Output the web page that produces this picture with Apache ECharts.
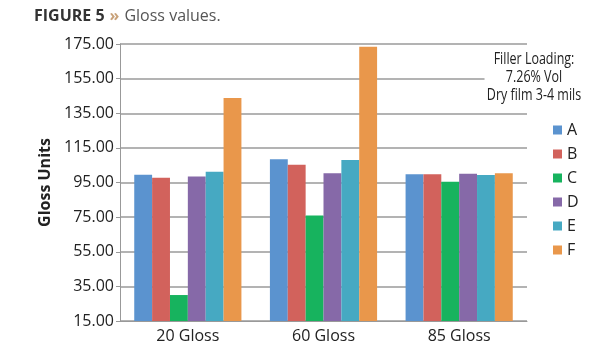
<!DOCTYPE html>
<html>
<head>
<meta charset="utf-8">
<script src="https://cdn.jsdelivr.net/npm/echarts@6/dist/echarts.min.js"></script>
<style>
  html, body { margin: 0; padding: 0; background: #fff; }
  #main { width: 615px; height: 350px; }
</style>
</head>
<body>
<div id="main"></div>
<script>
// 数据
var categories = ['20 Gloss', '60 Gloss', '85 Gloss'];
var seriesNames = ['A', 'B', 'C', 'D', 'E', 'F'];
var valA = [99.5, 108.5, 99.8];
var valB = [97.8, 105.2, 99.8];
var valC = [30.0, 76.0, 95.5];
var valD = [98.5, 100.4, 100.0];
var valE = [101.2, 108.0, 99.4];
var valF = [143.8, 173.4, 100.4];
var colors = ['#5b93cf', '#d2625c', '#17b35e', '#8669a8', '#46a9c2', '#e9974b'];

var allVals = [valA, valB, valC, valD, valE, valF];
var myChart = echarts.init(document.getElementById('main'));

var series = [];
for (var i = 0; i < seriesNames.length; i++) {
  series.push({
    name: seriesNames[i],
    type: 'bar',
    data: allVals[i],
    barGap: '0%',
    barCategoryGap: '21%',
    itemStyle: { color: colors[i] }
  });
}

var option = {
  animation: false,
  title: {
    text: '{a|FIGURE 5} {b|»} {c|Gloss values.}',
    left: 29,
    top: 2,
    textStyle: {
      rich: {
        a: { fontFamily: 'Open Sans', fontWeight: 'bold', fontSize: 16, color: '#333' },
        b: { fontFamily: 'Open Sans', fontWeight: 'bold', fontSize: 16, color: '#c9a27a' },
        c: { fontFamily: 'Open Sans', fontWeight: 'normal', fontSize: 16, color: '#555' }
      }
    }
  },
  legend: {
    orient: 'vertical',
    left: 548,
    top: 117,
    itemWidth: 9,
    itemHeight: 9,
    itemGap: 8,
    icon: 'rect',
    data: seriesNames,
    textStyle: { fontFamily: 'Open Sans', fontSize: 16, color: '#222' }
  },
  grid: { left: 120, right: 88, top: 44, bottom: 29 },
  xAxis: {
    type: 'category',
    data: categories,
    axisLine: { lineStyle: { color: '#999', width: 1 } },
    axisTick: { length: 4, lineStyle: { color: '#999' } },
    axisLabel: { fontFamily: 'Open Sans', fontSize: 16, color: '#222', margin: 7 }
  },
  yAxis: {
    type: 'value',
    min: 15,
    max: 175,
    interval: 20,
    name: 'Gloss Units',
    nameLocation: 'middle',
    nameGap: 58,
    nameTextStyle: { fontFamily: 'Open Sans', fontWeight: 'bold', fontSize: 16, color: '#222' },
    axisLine: { show: true, lineStyle: { color: '#999' } },
    axisTick: { show: true, length: 4, lineStyle: { color: '#999' } },
    axisLabel: {
      fontFamily: 'Open Sans', fontSize: 16, color: '#222', margin: 6,
      formatter: function (v) { return v.toFixed(2); }
    },
    splitLine: { lineStyle: { color: '#9a9a9a', width: 1.5 } }
  },
  graphic: [{
    type: 'text',
    x: 534,
    y: 48,
    scaleX: 0.78,
    z: 100,
    style: {
      text: 'Filler Loading:\n7.26% Vol\nDry film 3-4 mils',
      font: '16px "Open Sans", sans-serif',
      fill: '#222',
      align: 'center',
      lineHeight: 18,
      backgroundColor: '#fff',
      padding: [2, 3, 2, 3]
    }
  }],
  series: series
};

myChart.setOption(option);
</script>
</body>
</html>
